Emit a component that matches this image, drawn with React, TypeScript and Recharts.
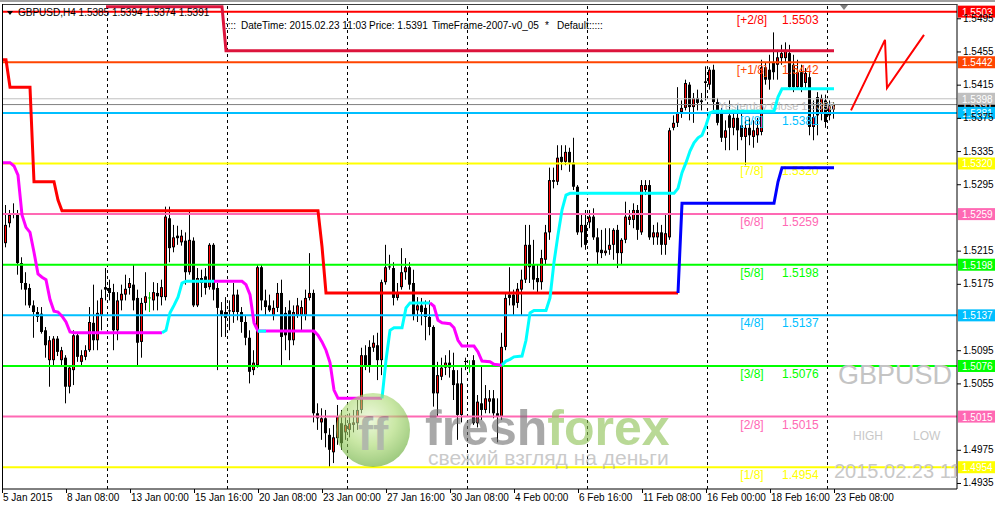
import React from 'react';
import { ComposedChart, Bar, Line, XAxis, YAxis, ReferenceLine } from 'recharts';

const FONT = '"Liberation Sans", Arial, sans-serif';

// GBPUSD H4 candles, [open, high, low, close]
const ohlc: number[][] = [
  [1.5206, 1.5247, 1.5201, 1.5224], [1.5224, 1.527, 1.5219, 1.5246], [1.5248, 1.5264, 1.5243, 1.5258], [1.526, 1.5272, 1.5254, 1.5259],
  [1.5259, 1.5264, 1.5186, 1.52], [1.52, 1.5207, 1.5168, 1.5176], [1.5176, 1.5189, 1.5149, 1.5168], [1.517, 1.5175, 1.5146, 1.5149],
  [1.5149, 1.5155, 1.511, 1.5141], [1.5141, 1.5147, 1.5129, 1.5135], [1.5139, 1.5147, 1.5115, 1.5117], [1.5119, 1.5123, 1.5086, 1.5101],
  [1.5083, 1.5112, 1.5051, 1.5107], [1.5083, 1.5112, 1.5077, 1.5109], [1.5109, 1.5112, 1.5088, 1.5093], [1.5083, 1.5099, 1.5076, 1.5095],
  [1.5086, 1.5089, 1.5031, 1.5051], [1.5051, 1.5077, 1.5043, 1.5074], [1.5071, 1.5119, 1.5053, 1.5113], [1.5113, 1.5117, 1.5081, 1.5087],
  [1.5081, 1.5095, 1.5076, 1.5089], [1.5087, 1.5101, 1.5083, 1.5095], [1.5095, 1.5147, 1.5093, 1.5129], [1.5128, 1.5174, 1.5095, 1.5107],
  [1.5107, 1.5155, 1.5095, 1.514], [1.5137, 1.5168, 1.5119, 1.5158], [1.5171, 1.5194, 1.5155, 1.5168], [1.517, 1.518, 1.5155, 1.5164],
  [1.5165, 1.5175, 1.5095, 1.5119], [1.5119, 1.5165, 1.5107, 1.5155], [1.5155, 1.5174, 1.5143, 1.5163], [1.5162, 1.5186, 1.5155, 1.5169],
  [1.517, 1.5182, 1.5162, 1.5176], [1.5174, 1.5198, 1.5143, 1.5155], [1.5158, 1.5168, 1.5077, 1.5104], [1.5105, 1.5158, 1.5086, 1.5152],
  [1.5152, 1.5189, 1.5143, 1.516], [1.5158, 1.5165, 1.5141, 1.5158], [1.5155, 1.5177, 1.5143, 1.5165], [1.5164, 1.5176, 1.5143, 1.516],
  [1.5159, 1.518, 1.5149, 1.5171], [1.5159, 1.5268, 1.5155, 1.5256], [1.5254, 1.5268, 1.5201, 1.5218], [1.5219, 1.5246, 1.5213, 1.5231],
  [1.5233, 1.5245, 1.5222, 1.523], [1.5225, 1.524, 1.5221, 1.5233], [1.5227, 1.5237, 1.5174, 1.5189], [1.5189, 1.5264, 1.5186, 1.5228],
  [1.5227, 1.5231, 1.5147, 1.5149], [1.5149, 1.5194, 1.5147, 1.5182], [1.5182, 1.5192, 1.5159, 1.5176], [1.5184, 1.5194, 1.5162, 1.517],
  [1.5171, 1.5224, 1.5168, 1.5222], [1.5222, 1.5224, 1.5155, 1.5168], [1.517, 1.5176, 1.5071, 1.5146], [1.5143, 1.5153, 1.5111, 1.5137],
  [1.5141, 1.5159, 1.5111, 1.5134], [1.5143, 1.5155, 1.5119, 1.5142], [1.5141, 1.5176, 1.5128, 1.5162], [1.5162, 1.5168, 1.5131, 1.5141],
  [1.5141, 1.5147, 1.5116, 1.5129], [1.5129, 1.5137, 1.5101, 1.511], [1.511, 1.5119, 1.5055, 1.5069], [1.5071, 1.5095, 1.5065, 1.508],
  [1.5077, 1.5198, 1.5074, 1.5195], [1.5195, 1.5198, 1.5143, 1.5155], [1.5155, 1.5168, 1.5137, 1.5147], [1.5149, 1.5162, 1.5141, 1.5143],
  [1.5137, 1.5155, 1.5131, 1.5146], [1.5146, 1.5176, 1.5141, 1.5164], [1.5164, 1.518, 1.5075, 1.5111], [1.514, 1.5147, 1.5095, 1.5113],
  [1.5143, 1.5155, 1.5083, 1.5107], [1.5107, 1.5149, 1.5101, 1.5141], [1.5137, 1.5158, 1.5134, 1.5149], [1.5137, 1.5155, 1.5119, 1.5147],
  [1.5137, 1.5168, 1.5131, 1.5158], [1.5158, 1.5212, 1.5155, 1.5164], [1.5164, 1.5168, 1.5008, 1.5019], [1.5019, 1.5031, 1.4999, 1.5013],
  [1.5008, 1.5025, 1.4987, 1.5013], [1.5013, 1.5023, 1.4978, 1.4995], [1.4993, 1.5001, 1.4954, 1.4975], [1.4972, 1.5005, 1.4959, 1.499],
  [1.4989, 1.5029, 1.4981, 1.5015], [1.5007, 1.5023, 1.4975, 1.4983], [1.4996, 1.5017, 1.4987, 1.5005], [1.4999, 1.5019, 1.499, 1.5007],
  [1.5005, 1.5023, 1.4996, 1.5008], [1.5007, 1.5035, 1.4999, 1.5023], [1.5023, 1.5098, 1.5019, 1.5089], [1.5089, 1.5101, 1.5071, 1.5075],
  [1.5099, 1.5107, 1.5068, 1.5075], [1.5098, 1.5113, 1.5093, 1.5104], [1.5101, 1.5116, 1.5059, 1.5083], [1.5083, 1.518, 1.5065, 1.5177],
  [1.5177, 1.5222, 1.5174, 1.5195], [1.5195, 1.521, 1.5192, 1.5196], [1.5194, 1.5201, 1.5149, 1.5158], [1.5158, 1.5176, 1.5155, 1.5165],
  [1.5171, 1.5218, 1.5168, 1.5189], [1.5189, 1.5206, 1.518, 1.5195], [1.5195, 1.5201, 1.5168, 1.5174], [1.5176, 1.5192, 1.5131, 1.5137],
  [1.5143, 1.5159, 1.5129, 1.5149], [1.5149, 1.5158, 1.5125, 1.5141], [1.5146, 1.5155, 1.5107, 1.5135], [1.5135, 1.5155, 1.5113, 1.5123],
  [1.5123, 1.5125, 1.5027, 1.5043], [1.5043, 1.5081, 1.5015, 1.5065], [1.5063, 1.5086, 1.5059, 1.5074], [1.5074, 1.5089, 1.5065, 1.508],
  [1.508, 1.5095, 1.5062, 1.5074], [1.5071, 1.5092, 1.5035, 1.5053], [1.5055, 1.5071, 1.4987, 1.5017], [1.5017, 1.5074, 1.5008, 1.5055],
  [1.5081, 1.5086, 1.5071, 1.5082], [1.5075, 1.5083, 1.5068, 1.5075], [1.5083, 1.5089, 1.5005, 1.5007], [1.5007, 1.5041, 1.5002, 1.5033],
  [1.5031, 1.5077, 1.5011, 1.5023], [1.5023, 1.5053, 1.5019, 1.5037], [1.5033, 1.5047, 1.5019, 1.5037], [1.5037, 1.5047, 1.5013, 1.5019],
  [1.5019, 1.5037, 1.4984, 1.5015], [1.5015, 1.5116, 1.5011, 1.5099], [1.5099, 1.5165, 1.5095, 1.5158], [1.5162, 1.5195, 1.5149, 1.5158],
  [1.5162, 1.5168, 1.5137, 1.5149], [1.5152, 1.5176, 1.5146, 1.5169], [1.5168, 1.5192, 1.5137, 1.518], [1.518, 1.5246, 1.5176, 1.5222],
  [1.5222, 1.5246, 1.5176, 1.5195], [1.5198, 1.5228, 1.5168, 1.518], [1.5182, 1.5198, 1.5165, 1.5177], [1.5177, 1.5216, 1.5168, 1.5206],
  [1.5204, 1.5246, 1.5198, 1.5237], [1.5237, 1.5315, 1.5228, 1.53], [1.53, 1.5315, 1.529, 1.5298], [1.5298, 1.5342, 1.5294, 1.5327],
  [1.5328, 1.5342, 1.5312, 1.5322], [1.5322, 1.5342, 1.5318, 1.5334], [1.5334, 1.5339, 1.531, 1.5321], [1.5321, 1.5351, 1.5288, 1.5292],
  [1.5292, 1.5294, 1.5234, 1.5237], [1.5237, 1.5258, 1.5219, 1.5246], [1.5246, 1.5264, 1.5216, 1.5222], [1.5249, 1.5264, 1.5242, 1.5256],
  [1.5256, 1.5266, 1.5228, 1.5231], [1.5231, 1.5242, 1.5198, 1.5213], [1.5216, 1.524, 1.5206, 1.5212], [1.5212, 1.5242, 1.5209, 1.5215],
  [1.5216, 1.5242, 1.521, 1.5222], [1.5222, 1.5242, 1.5204, 1.524], [1.524, 1.5246, 1.5194, 1.5212], [1.5212, 1.523, 1.5198, 1.5228],
  [1.5228, 1.5274, 1.5224, 1.5256], [1.5252, 1.5264, 1.5246, 1.5256], [1.5252, 1.5272, 1.5242, 1.5264], [1.5264, 1.527, 1.5228, 1.524],
  [1.5237, 1.53, 1.5234, 1.5294], [1.5288, 1.53, 1.5282, 1.5294], [1.5294, 1.53, 1.5228, 1.5231], [1.5231, 1.5246, 1.5222, 1.5237],
  [1.5231, 1.5249, 1.5222, 1.5237], [1.5237, 1.5246, 1.521, 1.5222], [1.5222, 1.5258, 1.521, 1.5236], [1.5231, 1.5363, 1.5228, 1.536],
  [1.5363, 1.5378, 1.536, 1.5369], [1.5369, 1.5412, 1.5364, 1.5382], [1.5382, 1.5396, 1.5375, 1.5387], [1.5387, 1.5421, 1.5384, 1.5417],
  [1.5415, 1.5418, 1.5372, 1.5388], [1.5388, 1.5405, 1.5369, 1.5399], [1.5399, 1.5409, 1.5384, 1.5393], [1.5396, 1.5405, 1.5384, 1.5394],
  [1.5419, 1.5437, 1.5396, 1.5417], [1.5415, 1.5436, 1.5409, 1.5433], [1.5433, 1.5439, 1.5384, 1.5394], [1.5394, 1.5399, 1.5366, 1.5369],
  [1.5381, 1.5387, 1.5346, 1.5351], [1.5351, 1.5372, 1.5336, 1.536], [1.5378, 1.5396, 1.5336, 1.5363], [1.5363, 1.5384, 1.5354, 1.5375],
  [1.5375, 1.539, 1.5336, 1.536], [1.5366, 1.5382, 1.5348, 1.5352], [1.5352, 1.5372, 1.5318, 1.5363], [1.5363, 1.5375, 1.5342, 1.5354],
  [1.5352, 1.5372, 1.5339, 1.536], [1.5354, 1.5375, 1.5345, 1.5363], [1.5358, 1.5445, 1.5354, 1.5436], [1.5436, 1.5442, 1.5415, 1.5421],
  [1.5433, 1.5451, 1.5409, 1.5421], [1.5442, 1.5478, 1.5421, 1.543], [1.5439, 1.5457, 1.5421, 1.5448], [1.5447, 1.5463, 1.5439, 1.5453],
  [1.5447, 1.5466, 1.5442, 1.5457], [1.5453, 1.5463, 1.5409, 1.5412], [1.5439, 1.5451, 1.5406, 1.5412], [1.5412, 1.5445, 1.5409, 1.543],
  [1.543, 1.5439, 1.5406, 1.5412], [1.5417, 1.5435, 1.5411, 1.5429], [1.5424, 1.543, 1.5354, 1.5364], [1.5364, 1.5396, 1.5348, 1.5376],
  [1.54, 1.5406, 1.5354, 1.5378], [1.5381, 1.5403, 1.5372, 1.5399], [1.5396, 1.5403, 1.5363, 1.537], [1.5378, 1.5396, 1.5372, 1.539],
  [1.5385, 1.5394, 1.5374, 1.5391],
];

const timeTicks = [0, 16, 32, 48, 64, 80, 96, 112, 128, 144, 160, 176, 192, 208];
const timeLabels = [
  '5 Jan 2015', '8 Jan 08:00', '13 Jan 00:00', '15 Jan 16:00', '20 Jan 08:00', '23 Jan 00:00', '27 Jan 16:00',
  '30 Jan 08:00', '4 Feb 00:00', '6 Feb 16:00', '11 Feb 08:00', '16 Feb 00:00', '18 Feb 16:00', '23 Feb 08:00',
];
const gridBars = [26.25, 56.25, 86.25, 116.25, 146.25, 176.25, 206.25];
const priceTicks = [1.4935, 1.4975, 1.5055, 1.5095, 1.5175, 1.5215, 1.5295, 1.5335, 1.5375, 1.5415, 1.5455, 1.5495];

// Murrey math levels
const levels = [1.5503, 1.5442, 1.5381, 1.532, 1.5259, 1.5198, 1.5137, 1.5076, 1.5015, 1.4954];
const levelNames = ['[+2/8]', '[+1/8]', '[8/8]', '[7/8]', '[6/8]', '[5/8]', '[4/8]', '[3/8]', '[2/8]', '[1/8]'];
const levelColors = ['#FF0000', '#FF4500', '#00BFFF', '#FFFF00', '#FF69B4', '#00FF00', '#00BFFF', '#00FF00', '#FF69B4', '#FFFF00'];
const yesterdayClose = 1.5398;
const bidPrice = 1.5391;

// indicator breakpoints, [bar, price]
const redStop = [[0, 1.5445], [1, 1.5445], [2, 1.5412], [7, 1.5412], [8, 1.5298], [13, 1.5298], [14, 1.5276], [15, 1.5263], [79, 1.5263], [80, 1.522], [81, 1.5164], [169, 1.5164]];
const crimsonStop = [[26, 1.5509], [55, 1.5509], [56, 1.5456], [208, 1.5456]];
const blueStop = [[169, 1.5164], [170, 1.5272], [193, 1.5272], [194, 1.5298], [195, 1.5315], [208, 1.5315]];
const magentaA = [[0, 1.5321], [2, 1.5321], [3, 1.5317], [4, 1.5306], [5, 1.5258], [6, 1.5243], [7, 1.5237], [8, 1.5213], [9, 1.5187], [10, 1.5183], [11, 1.518], [12, 1.5156], [13, 1.5142], [14, 1.5141], [15, 1.5136], [16, 1.5129], [17, 1.5117], [18, 1.5116], [40, 1.5116]];
const cyanA = [[40, 1.5116], [41, 1.5119], [42, 1.514], [43, 1.5149], [44, 1.5159], [45, 1.5176], [46, 1.5178], [53, 1.5178]];
const magentaB = [[53, 1.5178], [60, 1.5178], [61, 1.5174], [62, 1.5162], [63, 1.5128], [64, 1.5118], [78, 1.5118], [79, 1.5113], [80, 1.5105], [81, 1.5095], [82, 1.508], [83, 1.5047], [84, 1.5037], [95, 1.5037]];
const cyanB = [[64, 1.5118], [66, 1.5118]];
const cyanC = [[95, 1.5037], [96, 1.5083], [97, 1.5119], [98, 1.5122], [100, 1.5122], [101, 1.5146], [102, 1.5152], [107, 1.5152]];
const magentaC = [[107, 1.5152], [108, 1.5148], [109, 1.5131], [110, 1.5128], [112, 1.5127], [113, 1.5122], [114, 1.5107], [115, 1.51], [118, 1.51], [119, 1.5093], [120, 1.5082], [122, 1.5081], [123, 1.5078], [125, 1.5077]];
const cyanD = [[125, 1.5077], [126, 1.5082], [127, 1.5084], [128, 1.5087], [130, 1.5088], [131, 1.5107], [132, 1.514], [133, 1.5143], [136, 1.5143], [137, 1.5158], [138, 1.5201], [139, 1.5234], [140, 1.5264], [141, 1.5282], [142, 1.5284], [168, 1.5284], [169, 1.529], [170, 1.5309], [171, 1.5321], [172, 1.5335], [173, 1.5345], [174, 1.5351], [175, 1.5354], [176, 1.5366], [177, 1.5381], [178, 1.5383], [193, 1.5383], [194, 1.54], [195, 1.541], [208, 1.541]];
const arrowSketch = [[212.25, 1.5384], [220.75, 1.5469], [221.25, 1.5411], [230.5, 1.5475]];

const rows = ohlc.map(([o, h, l, c], i) => ({ i, o, h, l, c }));
const pts = (arr: number[][]) => arr.map(([i, v]) => ({ i, v }));

const series = [
  { key: 'red', data: redStop, color: '#FF0000', w: 3 },
  { key: 'crimson', data: crimsonStop, color: '#DC143C', w: 3 },
  { key: 'blue', data: blueStop, color: '#0000FF', w: 3 },
  { key: 'magA', data: magentaA, color: '#FF00FF', w: 3 },
  { key: 'cyanA', data: cyanA, color: '#00FFFF', w: 3 },
  { key: 'magB', data: magentaB, color: '#FF00FF', w: 3 },
  { key: 'cyanB', data: cyanB, color: '#00FFFF', w: 3 },
  { key: 'cyanC', data: cyanC, color: '#00FFFF', w: 3 },
  { key: 'magC', data: magentaC, color: '#FF00FF', w: 3 },
  { key: 'cyanD', data: cyanD, color: '#00FFFF', w: 3 },
  { key: 'arrow', data: arrowSketch, color: '#FF0000', w: 2 },
];

function Candle(props: any) {
  const { x, y, width, height, payload } = props;
  if (!payload) return null;
  const { o, h, l, c } = payload;
  const top = Math.min(y, y + height);
  const span = Math.abs(height);
  const k = h > l ? span / (h - l) : 0;
  const cx = Math.round(x + width / 2 - 0.5);
  const yo = top + (h - o) * k;
  const yc = top + (h - c) * k;
  const bTop = Math.min(yo, yc);
  const bH = Math.max(Math.abs(yo - yc), 1);
  if (o === c) {
    return (
      <g>
        <rect x={cx} y={top} width={1} height={Math.max(span, 1)} fill="#00CC00" />
        <rect x={cx - 1} y={yo - 0.5} width={3} height={1} fill="#00CC00" />
      </g>
    );
  }
  return (
    <g>
      <rect x={cx} y={top} width={1} height={Math.max(span, 1)} fill="#000" />
      <rect x={cx - 1} y={bTop} width={3} height={bH} fill="#000" />
      {c > o && bH > 2 && <rect x={cx} y={bTop + 1} width={1} height={bH - 2} fill="#FF0000" />}
    </g>
  );
}

function TimeTick(props: any) {
  const { x, y, payload } = props;
  const idx = timeTicks.indexOf(payload.value);
  return (
    <g>
      <line x1={x + 0.5} x2={x + 0.5} y1={y} y2={y + 4} stroke="#000" />
      <text x={x + 1} y={y + 12} fontSize={10} fill="#000" fontFamily={FONT}>{timeLabels[idx]}</text>
    </g>
  );
}

function PriceTick(props: any) {
  const { x, y, payload } = props;
  return (
    <g>
      <line x1={x} x2={x + 4} y1={y + 0.5} y2={y + 0.5} stroke="#000" />
      <text x={x + 6} y={y + 3.5} fontSize={10} fill="#000" fontFamily={FONT}>{payload.value.toFixed(4)}</text>
    </g>
  );
}

const priceBox = (value: number, color: string, extra?: (right: number, y: number) => React.ReactNode) =>
  (props: any) => {
    const vb = props.viewBox;
    const right = vb.x + vb.width;
    const y = vb.y;
    return (
      <g fontFamily={FONT}>
        {extra && extra(right, y)}
        <rect x={right + 1} y={y - 6} width={38} height={12} fill={color} />
        <text x={right + 5} y={y + 4} fontSize={10} fill="#fff">{value.toFixed(4)}</text>
      </g>
    );
  };

function Overlay() {
  return (
    <svg width={995} height={507} style={{ position: 'absolute', left: 0, top: 0, pointerEvents: 'none' }} fontFamily={FONT}>
      <defs>
        <clipPath id="plotClip"><rect x={2} y={4} width={955} height={485} /></clipPath>
        <radialGradient id="ffBall" cx="45%" cy="35%" r="65%">
          <stop offset="0%" stopColor="#E4F5C8" />
          <stop offset="55%" stopColor="#A6D86A" />
          <stop offset="100%" stopColor="#5FA82C" />
        </radialGradient>
      </defs>
      <rect x={0} y={0} width={995} height={2} fill="#A0A0A0" />
      <line x1={2} x2={957} y1={4.5} y2={4.5} stroke="#404040" />
      <line x1={2.5} x2={2.5} y1={4} y2={489} stroke="#000" />
      <polygon points="840,5 848,5 844,10" fill="#808080" />
      <polygon points="7,11 13,11 10,15" fill="#000" />
      <text x={18} y={16} fontSize={10} fill="#000">GBPUSD,H4  1.5385 1.5394 1.5374 1.5391</text>
      <text y={29} fontSize={10} fill="#000">
        <tspan x={225}>::::</tspan>
        <tspan x={241}>DateTime: 2015.02.23 11:03</tspan>
        <tspan x={369}>Price: 1.5391</tspan>
        <tspan x={432}>TimeFrame-2007-v0_05</tspan>
        <tspan x={545}>*</tspan>
        <tspan x={557}>Default</tspan>
        <tspan x={589}>:::::</tspan>
      </text>
      <g clipPath="url(#plotClip)">
        <text x={838} y={384} fontSize={27} fill="#C4C4C4">GBPUSD</text>
        <text x={853} y={440} fontSize={12} fill="#C8C8C8">HIGH</text>
        <text x={913} y={440} fontSize={12} fill="#C8C8C8">LOW</text>
        <text x={834} y={478} fontSize={20} fill="#C8C8C8">2015.02.23 11:03</text>
      </g>
      <g opacity={0.6}>
        <circle cx={373} cy={430} r={37} fill="url(#ffBall)" />
        <text x={373} y={450} textAnchor="middle" fontSize={46} fontWeight="bold" fill="#7E8C74">ff</text>
        <text x={425} y={445} fontSize={50} fontWeight="bold">
          <tspan fill="#707070">fresh</tspan>
          <tspan fill="#8CC152">forex</tspan>
        </text>
        <text x={428} y={465} fontSize={21} fill="#A8A8A8">свежий взгляд на деньги</text>
      </g>
    </svg>
  );
}

export default function App() {
  return (
    <div style={{ position: 'absolute', left: 0, top: 0, width: 995, height: 507, background: '#fff', overflow: 'hidden' }}>
      <ComposedChart width={995} height={507} data={rows} margin={{ top: 4, right: 0, bottom: 0, left: 2 }}>
        <XAxis
          type="number"
          dataKey="i"
          domain={[0, 238.75]}
          allowDataOverflow
          ticks={timeTicks}
          interval={0}
          height={18}
          tickSize={0}
          tickMargin={0}
          tickLine={false}
          axisLine={{ stroke: '#000' }}
          tick={<TimeTick />}
        />
        <YAxis
          orientation="right"
          type="number"
          domain={[1.492775, 1.55122]}
          allowDataOverflow
          ticks={priceTicks}
          interval={0}
          width={38}
          tickSize={0}
          tickMargin={0}
          tickLine={false}
          axisLine={{ stroke: '#000' }}
          tick={<PriceTick />}
        />
        {gridBars.map((g) => (
          <ReferenceLine key={g} x={g} stroke="#000" strokeDasharray="3 3" shapeRendering="crispEdges" />
        ))}
        <Bar dataKey={(d: any) => [d.l, d.h]} barSize={3} shape={<Candle />} isAnimationActive={false} />
        <ReferenceLine y={bidPrice} stroke="#808080" label={priceBox(bidPrice, '#000')} />
        <ReferenceLine
          y={yesterdayClose}
          stroke="#C0C0C0"
          label={priceBox(yesterdayClose, '#C0C0C0', (right, y) => (
            <text x={right - 122} y={y + 11} textAnchor="end" fontSize={11} fill="#C0C0C0">Yesterday Close 1.5398</text>
          ))}
        />
        {levels.map((lv, k) => (
          <ReferenceLine
            key={lv}
            y={lv}
            stroke={levelColors[k]}
            strokeWidth={2}
            label={priceBox(lv, levelColors[k], (right, y) => (
              <g fontSize={12} fill={levelColors[k]}>
                <text x={right - 205} y={y + 12} textAnchor="middle">{levelNames[k]}</text>
                <text x={right - 175} y={y + 12}>{lv.toFixed(4)}</text>
              </g>
            ))}
          />
        ))}
        {series.map((s) => (
          <Line
            key={s.key}
            data={pts(s.data)}
            dataKey="v"
            type="linear"
            stroke={s.color}
            strokeWidth={s.w}
            dot={false}
            activeDot={false}
            isAnimationActive={false}
          />
        ))}
      </ComposedChart>
      <Overlay />
    </div>
  );
}
